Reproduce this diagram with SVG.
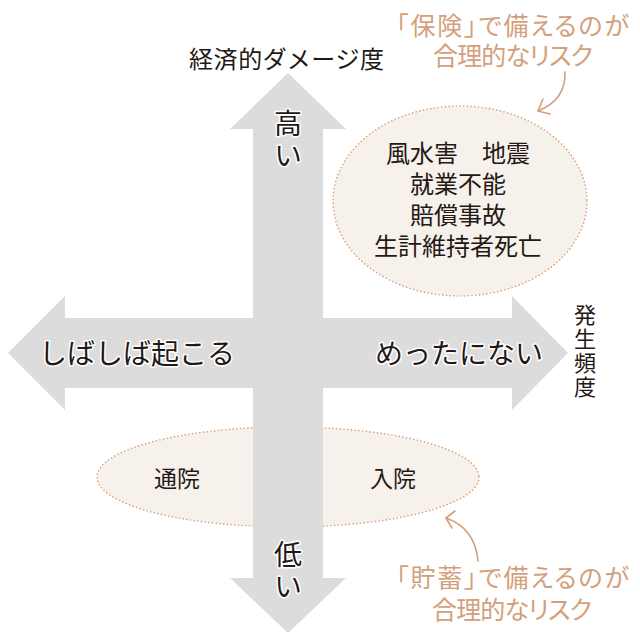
<svg xmlns="http://www.w3.org/2000/svg" width="640" height="640" viewBox="0 0 640 640">
<defs>
<style>
.arrow{fill:#dcdcdc}
.bubble{fill:#f7f1eb;stroke:#dba17c;stroke-width:1.6;stroke-dasharray:0.1 3.6;stroke-linecap:round}
.t{font-family:"Noto Sans CJK JP","Noto Sans",sans-serif;fill:#231815}
.v{writing-mode:vertical-rl}
.halo{paint-order:stroke;stroke:#ffffff;stroke-width:3;stroke-linejoin:round}
.note{font-family:"Noto Sans CJK JP","Noto Sans",sans-serif;fill:#d3a07c;font-size:25px;font-weight:400;font-feature-settings:"palt"}
.curve{fill:none;stroke:#d3a07c;stroke-width:1.6;stroke-linecap:round;stroke-linejoin:round}
</style>
</defs>
<rect width="640" height="640" fill="#ffffff"/>

<g id="node-low-bubble">
<ellipse class="bubble" cx="288" cy="477" rx="191" ry="50"/>
</g>

<g id="axes">
<polygon class="arrow" points="288,73 346,129 323,129 323,578 346,578 288,633 230,578 253,578 253,129 230,129"/>
<polygon class="arrow" points="8,353 65,296 65,318 512,318 512,296 568,353 512,410 512,388 65,388 65,410"/>
</g>

<g id="node-high-bubble">
<ellipse class="bubble" cx="460" cy="201" rx="127" ry="95"/>
<text class="t" font-size="24" text-anchor="middle" x="458" y="162">風水害　地震</text>
<text class="t" font-size="24" text-anchor="middle" x="458" y="193">就業不能</text>
<text class="t" font-size="24" text-anchor="middle" x="458" y="224">賠償事故</text>
<text class="t" font-size="24" text-anchor="middle" x="458" y="255">生計維持者死亡</text>
</g>

<g id="node-low-labels">
<text class="t" font-size="23" text-anchor="middle" x="177" y="487">通院</text>
<text class="t" font-size="23" text-anchor="middle" x="393" y="487">入院</text>
</g>

<g id="axis-labels">
<text class="t" font-size="24" x="189" y="68" textLength="195">経済的ダメージ度</text>
<text class="t v halo" font-size="28" x="288" y="109" letter-spacing="4">高い</text>
<text class="t v halo" font-size="28" x="288" y="540" letter-spacing="4">低い</text>
<text class="t halo" font-size="28" x="39" y="364">しばしば起こる</text>
<text class="t halo" font-size="28" x="375" y="364">めったにない</text>
<text class="t v" font-size="22" x="585" y="304" letter-spacing="2">発生頻度</text>
</g>

<g id="node-note-insurance">
<text class="note" x="396" y="35" textLength="233">「保険」で備えるのが</text>
<text class="note" x="433" y="65" textLength="160">合理的なリスク</text>
</g>

<g id="node-note-savings">
<text class="note" x="396" y="587" textLength="233">「貯蓄」で備えるのが</text>
<text class="note" x="432" y="619" textLength="160">合理的なリスク</text>
</g>

<g id="connectors">
<path class="curve" d="M565,72 Q566,100 538,111"/>
<path class="curve" d="M543,99 L538,111 L550,114"/>
<path class="curve" d="M478,561 Q475,528 446,518"/>
<path class="curve" d="M455,511 L446,518 L452,528"/>
</g>
</svg>
